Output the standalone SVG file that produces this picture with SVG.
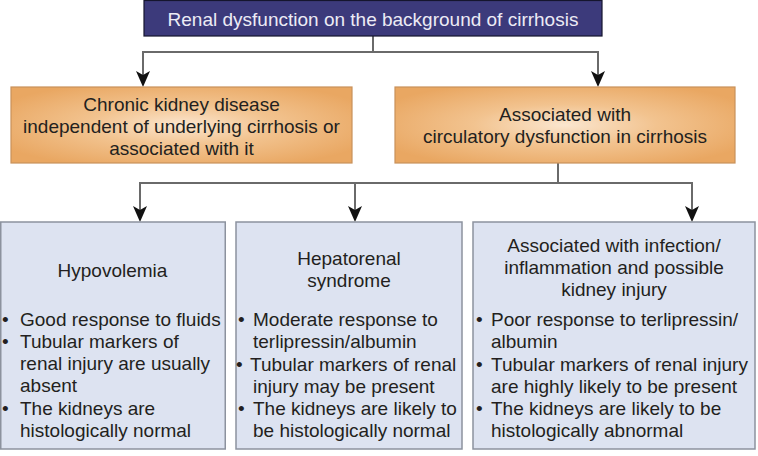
<svg xmlns="http://www.w3.org/2000/svg" width="758" height="456" viewBox="0 0 758 456">
<style>
text{font-family:"Liberation Sans",Arial,sans-serif;font-size:19px;fill:#231f20}
.c{text-anchor:middle}
.title{fill:#ecebf5}
.orange{fill:url(#og);stroke:#c9915a;stroke-width:1.2}
.blue{fill:#dde3f1;stroke:#8c929e;stroke-width:1.5}
.conn{fill:none;stroke:#6a6a6a;stroke-width:2}
.arr{marker-end:url(#ah)}
</style>
<defs>
<radialGradient id="og" cx="50%" cy="50%" r="60%">
<stop offset="0" stop-color="#fbe6cf"/>
<stop offset="0.45" stop-color="#f2c38f"/>
<stop offset="1" stop-color="#e9a762"/>
</radialGradient>
<marker id="ah" viewBox="0 0 16 14" refX="12" refY="7" markerWidth="16" markerHeight="14" markerUnits="userSpaceOnUse" orient="auto">
<path d="M0,0 L16,7 L0,14 L4,7 z" fill="#111"/>
</marker>
</defs>

<g id="connectors">
<path class="conn" d="M373,36 V52"/>
<path class="conn arr" d="M373,52 H143 V83"/>
<path class="conn arr" d="M373,52 H598 V83"/>
<path class="conn" d="M558,163 V183"/>
<path class="conn arr" d="M558,183 H140 V218"/>
<path class="conn arr" d="M355,183 V218"/>
<path class="conn arr" d="M558,183 H692 V218"/>
</g>

<g id="root">
<rect x="144" y="0.5" width="458" height="35.5" fill="#3c3a7b" stroke="#15152e" stroke-width="1.2"/>
<text class="c title" x="373" y="25.5">Renal dysfunction on the background of cirrhosis</text>
</g>

<g id="ckd">
<rect class="orange" x="11" y="87" width="341" height="76"/>
<text class="c" x="181.5" y="111">Chronic kidney disease</text>
<text class="c" x="181.5" y="133">independent of underlying cirrhosis or</text>
<text class="c" x="181.5" y="155">associated with it</text>
</g>

<g id="circulatory">
<rect class="orange" x="395" y="87" width="340" height="76"/>
<text class="c" x="565" y="121">Associated with</text>
<text class="c" x="565" y="143">circulatory dysfunction in cirrhosis</text>
</g>

<g id="hypovolemia">
<rect class="blue" x="0.75" y="222" width="224.5" height="227"/>
<text class="c" x="112.5" y="277">Hypovolemia</text>
<text x="2" y="326">•</text><text x="20" y="326">Good response to fluids</text>
<text x="2" y="348">•</text><text x="20" y="348">Tubular markers of</text>
<text x="20" y="370">renal injury are usually</text>
<text x="20" y="392">absent</text>
<text x="2" y="415">•</text><text x="20" y="415">The kidneys are</text>
<text x="20" y="437">histologically normal</text>
</g>

<g id="hrs">
<rect class="blue" x="236" y="222" width="226" height="227"/>
<text class="c" x="349" y="265">Hepatorenal</text>
<text class="c" x="349" y="287">syndrome</text>
<text x="238" y="326">•</text><text x="253" y="326">Moderate response to</text>
<text x="253" y="348">terlipressin/albumin</text>
<text x="236" y="371">•</text><text x="250" y="371">Tubular markers of renal</text>
<text x="253" y="393">injury may be present</text>
<text x="238" y="415">•</text><text x="253" y="415">The kidneys are likely to</text>
<text x="253" y="437">be histologically normal</text>
</g>

<g id="infection">
<rect class="blue" x="473" y="222" width="282" height="227"/>
<text class="c" x="614" y="252">Associated with infection/</text>
<text class="c" x="614" y="274">inflammation and possible</text>
<text class="c" x="614" y="296">kidney injury</text>
<text x="476" y="326">•</text><text x="491" y="326">Poor response to terlipressin/</text>
<text x="491" y="348">albumin</text>
<text x="476" y="371">•</text><text x="491" y="371">Tubular markers of renal injury</text>
<text x="491" y="393">are highly likely to be present</text>
<text x="476" y="415">•</text><text x="491" y="415">The kidneys are likely to be</text>
<text x="491" y="437">histologically abnormal</text>
</g>
</svg>
